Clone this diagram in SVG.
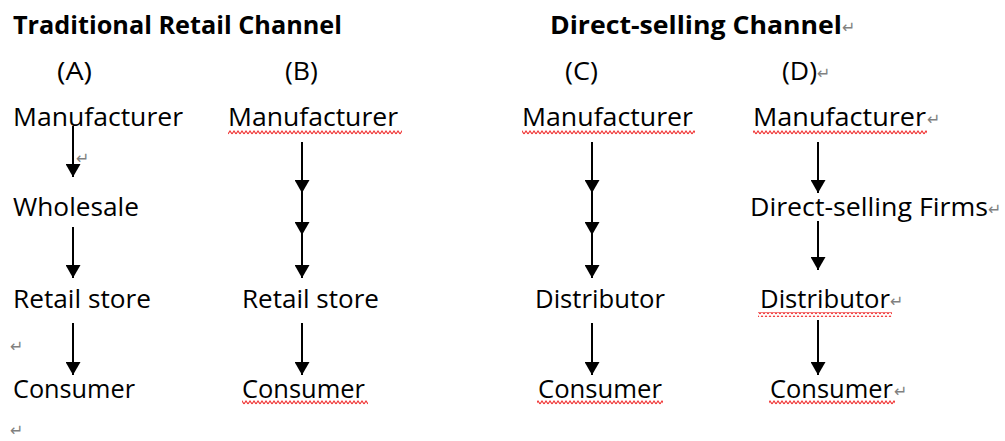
<svg xmlns="http://www.w3.org/2000/svg" width="1005" height="441" viewBox="0 0 1005 441">
<style>
.t{font-family:"Open Sans","Noto Sans",sans-serif;font-size:26px;fill:#000}
.h{font-family:"Open Sans","Noto Sans",sans-serif;font-size:25px;font-weight:bold;fill:#000}
.rm{font-family:"DejaVu Sans",sans-serif;font-size:16px;fill:#808080}
.ln{stroke:#000;stroke-width:2;fill:none}
</style>
<defs>
<marker id="ah" markerUnits="userSpaceOnUse" markerWidth="15" markerHeight="15" refX="13" refY="7.5" orient="auto">
<path d="M0,0 L13,7.5 L0,15 Z" fill="#000"/>
</marker>
<pattern id="sq" width="4" height="5" patternUnits="userSpaceOnUse">
<path d="M0,4 L2,1 L4,4" stroke="#f03030" stroke-width="1.1" fill="none"/>
</pattern>
</defs>
<rect width="1005" height="441" fill="#fff"/>

<g id="headers">
<text class="h" x="13" y="34" textLength="329" lengthAdjust="spacingAndGlyphs">Traditional Retail Channel</text>
<text class="h" x="550" y="34" textLength="292" lengthAdjust="spacingAndGlyphs">Direct-selling Channel</text>
<text class="rm" x="842" y="33">↵</text>
<text class="t" x="57" y="80" textLength="35" lengthAdjust="spacingAndGlyphs">(A)</text>
<text class="t" x="285" y="80" textLength="33" lengthAdjust="spacingAndGlyphs">(B)</text>
<text class="t" x="565" y="80" textLength="33" lengthAdjust="spacingAndGlyphs">(C)</text>
<text class="t" x="782" y="80" textLength="35" lengthAdjust="spacingAndGlyphs">(D)</text>
<text class="rm" x="817" y="79">↵</text>
</g>

<g id="colA">
<g id="a-manufacturer"><text class="t" x="13" y="126" textLength="170" lengthAdjust="spacingAndGlyphs">Manufacturer</text></g>
<g id="a-wholesale"><text class="t" x="13" y="216" textLength="126" lengthAdjust="spacingAndGlyphs">Wholesale</text></g>
<g id="a-retail"><text class="t" x="13" y="308" textLength="138" lengthAdjust="spacingAndGlyphs">Retail store</text></g>
<g id="a-consumer"><text class="t" x="13" y="398" textLength="122" lengthAdjust="spacingAndGlyphs">Consumer</text></g>
<text class="rm" x="76" y="164" font-size="10">↵</text>
<text class="rm" x="10" y="352">↵</text>
<text class="rm" x="10" y="436">↵</text>
</g>

<g id="colB">
<g id="b-manufacturer"><text class="t" x="228" y="126" textLength="170" lengthAdjust="spacingAndGlyphs">Manufacturer</text>
<rect x="228" y="130" width="174" height="5" fill="url(#sq)"/></g>
<g id="b-retail"><text class="t" x="242" y="308" textLength="137" lengthAdjust="spacingAndGlyphs">Retail store</text></g>
<g id="b-consumer"><text class="t" x="242" y="398" textLength="123" lengthAdjust="spacingAndGlyphs">Consumer</text>
<rect x="242" y="400" width="126" height="5" fill="url(#sq)"/></g>
</g>

<g id="colC">
<g id="c-manufacturer"><text class="t" x="522" y="126" textLength="171" lengthAdjust="spacingAndGlyphs">Manufacturer</text>
<rect x="522" y="130" width="173" height="5" fill="url(#sq)"/></g>
<g id="c-distributor"><text class="t" x="535" y="308" textLength="130" lengthAdjust="spacingAndGlyphs">Distributor</text></g>
<g id="c-consumer"><text class="t" x="538" y="398" textLength="124" lengthAdjust="spacingAndGlyphs">Consumer</text>
<rect x="537" y="400" width="126" height="5" fill="url(#sq)"/></g>
</g>

<g id="colD">
<g id="d-manufacturer"><text class="t" x="753" y="126" textLength="173" lengthAdjust="spacingAndGlyphs">Manufacturer</text>
<rect x="753" y="130" width="174" height="5" fill="url(#sq)"/>
<text class="rm" x="927" y="125">↵</text></g>
<g id="d-firms"><text class="t" x="750" y="216" textLength="238" lengthAdjust="spacingAndGlyphs">Direct-selling Firms</text>
<text class="rm" x="988" y="215">↵</text></g>
<g id="d-distributor"><text class="t" x="760" y="308" textLength="130" lengthAdjust="spacingAndGlyphs">Distributor</text>
<rect x="758" y="312" width="134" height="5" fill="url(#sq)"/>
<text class="rm" x="890" y="307">↵</text></g>
<g id="d-consumer"><text class="t" x="770" y="398" textLength="123" lengthAdjust="spacingAndGlyphs">Consumer</text>
<rect x="769" y="400" width="126" height="5" fill="url(#sq)"/>
<text class="rm" x="894" y="397">↵</text></g>
</g>

<g id="connectors">
<line class="ln" x1="73" y1="126" x2="73" y2="177" marker-end="url(#ah)"/>
<line class="ln" x1="73" y1="227" x2="73" y2="278" marker-end="url(#ah)"/>
<line class="ln" x1="73" y1="323" x2="73" y2="375" marker-end="url(#ah)"/>

<line class="ln" x1="302" y1="142" x2="302" y2="193" marker-end="url(#ah)"/>
<line class="ln" x1="302" y1="193" x2="302" y2="235" marker-end="url(#ah)"/>
<line class="ln" x1="302" y1="235" x2="302" y2="278" marker-end="url(#ah)"/>
<line class="ln" x1="302" y1="323" x2="302" y2="375" marker-end="url(#ah)"/>

<line class="ln" x1="592" y1="142" x2="592" y2="193" marker-end="url(#ah)"/>
<line class="ln" x1="592" y1="193" x2="592" y2="235" marker-end="url(#ah)"/>
<line class="ln" x1="592" y1="235" x2="592" y2="278" marker-end="url(#ah)"/>
<line class="ln" x1="592" y1="323" x2="592" y2="375" marker-end="url(#ah)"/>

<line class="ln" x1="818" y1="142" x2="818" y2="193" marker-end="url(#ah)"/>
<line class="ln" x1="818" y1="221" x2="818" y2="270" marker-end="url(#ah)"/>
<line class="ln" x1="818" y1="320" x2="818" y2="375" marker-end="url(#ah)"/>
</g>
</svg>
